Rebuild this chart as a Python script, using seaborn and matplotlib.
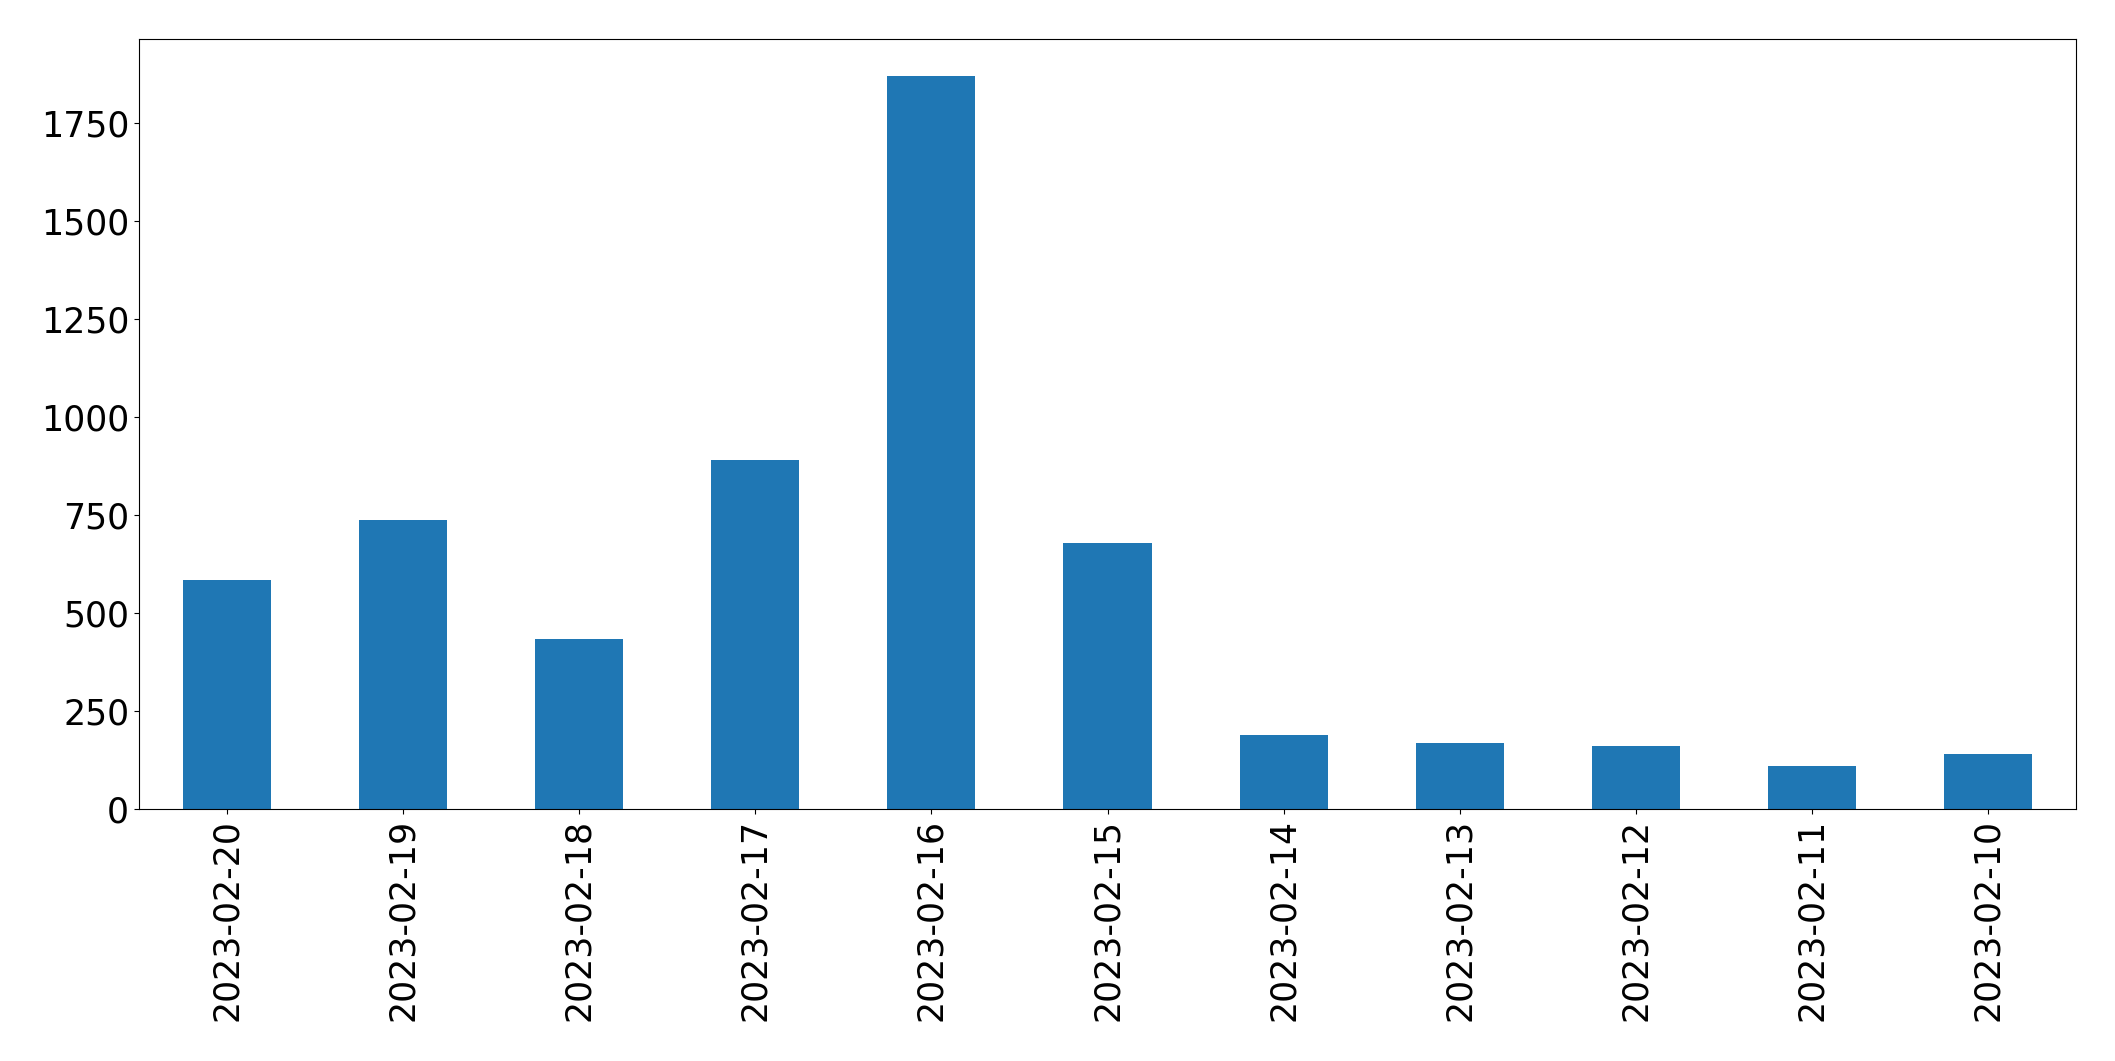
import numpy as np
import pandas as pd
import matplotlib
matplotlib.use("Agg")
import matplotlib.pyplot as plt
import seaborn as sns

# daily counts, newest first (as in the original ordering)
dates = ["2023-02-20", "2023-02-19", "2023-02-18", "2023-02-17", "2023-02-16",
         "2023-02-15", "2023-02-14", "2023-02-13", "2023-02-12", "2023-02-11",
         "2023-02-10"]
counts = [585, 738, 434, 890, 1871, 680, 189, 169, 161, 109, 141]

df = pd.DataFrame({"date": dates, "count": counts})

fig, ax = plt.subplots(figsize=(21.15, 10.61), dpi=100)
sns.barplot(data=df, x="date", y="count", order=dates, color="#1f77b4",
            saturation=1, width=0.5, ax=ax)
ax.set_xlabel("")
ax.set_ylabel("")
ax.set_ylim(0, max(counts) * 1.05)
ax.tick_params(axis="both", labelsize=25)
plt.setp(ax.xaxis.get_majorticklabels(), rotation=90)
plt.subplots_adjust(left=0.0657, right=0.9816, top=0.963, bottom=0.2375)
plt.savefig("out.png", dpi=100)
